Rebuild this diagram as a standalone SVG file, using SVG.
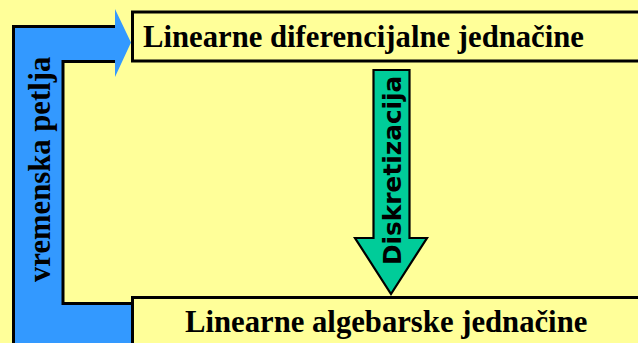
<svg xmlns="http://www.w3.org/2000/svg" width="638" height="343" viewBox="0 0 638 343">
  <style>
    .box { fill: #FFFF99; stroke: #000; stroke-width: 3; }
    .serif { font-family: "Liberation Serif", "Times New Roman", serif; font-weight: bold; font-size: 30.7px; fill: #000; }
    .sans { font-family: "DejaVu Sans", Verdana, sans-serif; font-weight: bold; font-size: 24.8px; fill: #000; }
    .edge { fill: none; stroke: #000; stroke-width: 3; }
  </style>
  <rect x="0" y="0" width="638" height="343" fill="#FFFF99"/>
  <g id="connectors">
    <g id="loop-arrow">
      <polygon points="13.5,26.5 115,26.5 115,9 131,42.5 115,77 115,61.5 63,61.5 63,303.5 134,303.5 134,345 13.5,345" fill="#3399FF"/>
      <polyline class="edge" points="13.5,346 13.5,26.5 115,26.5"/>
      <polyline class="edge" points="115,61.5 63,61.5 63,303.5 134,303.5"/>
      <text class="serif" transform="translate(50,282) rotate(-90)">vremenska petlja</text>
    </g>
    <g id="discretization-arrow">
      <polygon points="373.5,70 409.5,70 409.5,238 427,238 391,294 355,238 373.5,238" fill="#00CC99" stroke="#000" stroke-width="2.2" stroke-linejoin="miter"/>
      <text class="sans" transform="translate(401,265) rotate(-90)">Diskretizacija</text>
    </g>
  </g>
  <g id="node-differential">
    <rect class="box" x="132.5" y="12" width="520" height="49"/>
    <text class="serif" x="143" y="46.5">Linearne diferencijalne jednačine</text>
  </g>
  <g id="node-algebraic">
    <rect class="box" x="132.5" y="297.5" width="520" height="60"/>
    <text class="serif" x="185" y="331.5">Linearne algebarske jednačine</text>
  </g>
</svg>
